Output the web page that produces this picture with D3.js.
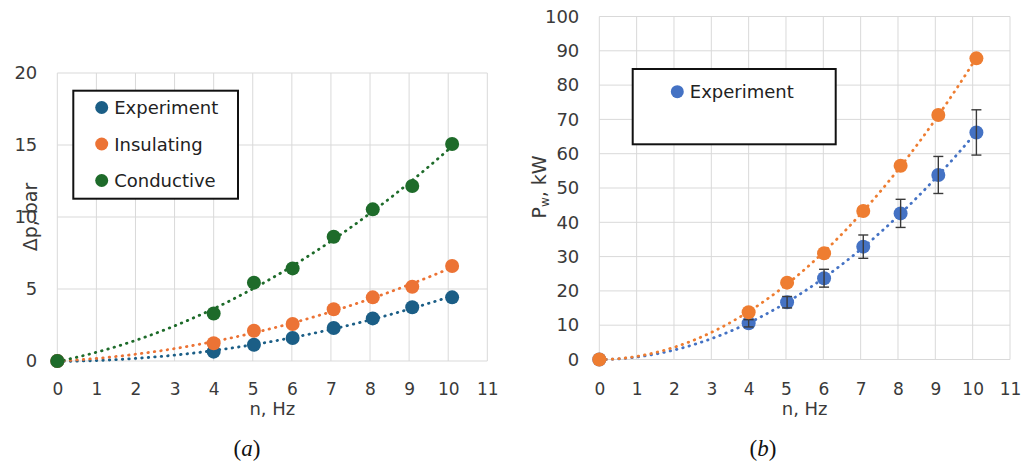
<!DOCTYPE html>
<html><head><meta charset="utf-8">
<script src="https://cdn.jsdelivr.net/npm/d3@7"></script>
<style>body{margin:0;background:#fff}svg{display:block}</style>
</head><body>
<svg id="c" width="1029" height="466"></svg>
<script>
// ---- data ----
const freqN = [0, 4, 5.03, 6.02, 7.07, 8.07, 9.08, 10.1];
const xTicks = [0,1,2,3,4,5,6,7,8,9,10,11];
const dpTicks = [0,5,10,15,20];
const pwTicks = [0,10,20,30,40,50,60,70,80,90,100];
const dpExperiment = [0, 0.65, 1.13, 1.6, 2.29, 2.96, 3.73, 4.42];
const dpInsulating = [0, 1.23, 2.1, 2.57, 3.59, 4.42, 5.16, 6.6];
const dpConductive = [0, 3.3, 5.44, 6.43, 8.63, 10.53, 12.15, 15.07];
const pwExperiment = [0, 10.55, 16.7, 23.7, 32.9, 42.6, 53.8, 66.2];
const pwExpError   = [0, 1.06, 1.67, 2.6, 3.4, 4.1, 5.4, 6.6];
const pwModel      = [0, 13.76, 22.4, 30.96, 43.3, 56.5, 71.3, 87.8];
const legendA = ["Experiment","Insulating","Conductive"];
const legendB = ["Experiment"];

const FONT = "DejaVu Sans, sans-serif";
const TXT = "#3a3a3a";
const svg = d3.select("#c");

function quadFit(xs, ys){
  let S=[0,0,0,0,0], T=[0,0,0];
  xs.forEach((x,i)=>{ for(let k=0;k<5;k++) S[k]+=Math.pow(x,k); for(let k=0;k<3;k++) T[k]+=ys[i]*Math.pow(x,k); });
  const A=[[S[0],S[1],S[2],T[0]],[S[1],S[2],S[3],T[1]],[S[2],S[3],S[4],T[2]]];
  for(let i=0;i<3;i++){ for(let j=i+1;j<3;j++){ const f=A[j][i]/A[i][i]; for(let k=i;k<4;k++) A[j][k]-=f*A[i][k]; } }
  const c=[0,0,0];
  for(let i=2;i>=0;i--){ let s=A[i][3]; for(let k=i+1;k<3;k++) s-=A[i][k]*c[k]; c[i]=s/A[i][i]; }
  return x=>c[0]+c[1]*x+c[2]*x*x;
}

function panel(o){
  const g = svg.append("g");
  const x = d3.scaleLinear().domain([0,11]).range(o.xr);
  const y = d3.scaleLinear().domain([0,o.ymax]).range(o.yr);
  g.selectAll(".vg").data(xTicks).join("line")
    .attr("x1",d=>x(d)).attr("x2",d=>x(d)).attr("y1",y(0)).attr("y2",y(o.ymax))
    .attr("stroke","#d9d9d9").attr("stroke-width",1);
  g.selectAll(".hg").data(o.yTicks).join("line")
    .attr("x1",x(0)).attr("x2",x(11)).attr("y1",d=>y(d)).attr("y2",d=>y(d))
    .attr("stroke","#d9d9d9").attr("stroke-width",1);
  const xa = g.append("g").attr("transform",`translate(0,${y(0)})`)
    .call(d3.axisBottom(x).tickValues(xTicks).tickSize(0).tickPadding(o.xPad));
  xa.select(".domain").remove();
  xa.selectAll("text").attr("font-family",FONT).attr("font-size",17).attr("fill",TXT);
  const ya = g.append("g").attr("transform",`translate(${x(0)},0)`)
    .call(d3.axisLeft(y).tickValues(o.yTicks).tickSize(0).tickPadding(o.yPad));
  ya.select(".domain").remove();
  ya.selectAll("text").attr("font-family",FONT).attr("font-size",18).attr("fill",TXT);
  g.append("text").attr("x",(x(0)+x(11))/2).attr("y",o.xtY).attr("text-anchor","middle")
    .attr("font-family",FONT).attr("font-size",18).attr("fill",TXT).text("n, Hz");
  const line = d3.line().x(d=>x(d[0])).y(d=>y(d[1]));
  o.series.forEach(s=>{
    const f = quadFit(freqN, s.v);
    const pts = d3.range(0, 201).map(i=>{const xx=freqN[freqN.length-1]*i/200; return [xx,f(xx)];});
    g.append("path").attr("d",line(pts)).attr("fill","none").attr("stroke",s.c)
      .attr("stroke-width",2.8).attr("stroke-linecap","round").attr("stroke-dasharray","0.5 6");
  });
  o.series.forEach(s=>{
    g.selectAll(null).data(freqN.map((n,i)=>[n,s.v[i]])).join("circle")
      .attr("cx",d=>x(d[0])).attr("cy",d=>y(d[1])).attr("r",7).attr("fill",s.c);
    if(s.err){
      const eb = g.append("g").attr("stroke","#3a3a3a").attr("stroke-width",1.4);
      freqN.forEach((n,i)=>{
        if(!s.err[i]) return;
        const lo=y(s.v[i]-s.err[i]), hi=y(s.v[i]+s.err[i]), cx=x(n);
        eb.append("line").attr("x1",cx).attr("x2",cx).attr("y1",lo).attr("y2",hi);
        eb.append("line").attr("x1",cx-5).attr("x2",cx+5).attr("y1",lo).attr("y2",lo);
        eb.append("line").attr("x1",cx-5).attr("x2",cx+5).attr("y1",hi).attr("y2",hi);
      });
    }
  });
  return {g,x,y};
}

panel({xr:[57.3,487.3], yr:[361,73], ymax:20, yTicks:dpTicks, xPad:22, yPad:20, xtY:415,
  series:[{v:dpExperiment,c:"#1b5e86"},{v:dpInsulating,c:"#ec7335"},{v:dpConductive,c:"#1e6b2a"}]});
panel({xr:[599.3,1010], yr:[359.5,16.5], ymax:100, yTicks:pwTicks, xPad:23.5, yPad:20, xtY:415,
  series:[{v:pwExperiment,c:"#4472c4",err:pwExpError},{v:pwModel,c:"#ee7d31"}]});

svg.append("text").attr("transform","translate(37,217) rotate(-90)").attr("text-anchor","middle")
  .attr("font-family",FONT).attr("font-size",19).attr("fill",TXT).text("Δp, bar");
const pt = svg.append("text").attr("transform","translate(546,187) rotate(-90)").attr("text-anchor","middle")
  .attr("font-family",FONT).attr("font-size",19).attr("fill",TXT);
pt.append("tspan").text("P");
pt.append("tspan").attr("font-size",12).attr("dy",3).text("w");
pt.append("tspan").attr("dy",-3).text(", kW");

function legend(x0,y0,w,h,items,colors,cy0,dy,mx){
  svg.append("rect").attr("x",x0).attr("y",y0).attr("width",w).attr("height",h)
    .attr("fill","#fff").attr("stroke","#111").attr("stroke-width",2);
  items.forEach((t,i)=>{
    svg.append("circle").attr("cx",mx).attr("cy",cy0+i*dy).attr("r",6.5).attr("fill",colors[i]);
    svg.append("text").attr("x",mx+12.5).attr("y",cy0+i*dy+6.5).attr("font-family",FONT)
      .attr("font-size",18).attr("fill","#222").text(t);
  });
}
legend(73.3,90.7,164.7,108,legendA,["#1b5e86","#ec7335","#1e6b2a"],107.5,36.5,101.7);
legend(632.7,69,203,75.3,legendB,["#4472c4"],91.7,0,677.3);

function caption(cx,letter){
  const t = svg.append("text").attr("x",cx).attr("y",456).attr("text-anchor","middle")
    .attr("font-family","Liberation Serif, serif").attr("font-size",23).attr("fill","#111");
  t.append("tspan").text("(");
  t.append("tspan").attr("font-style","italic").text(letter);
  t.append("tspan").text(")");
}
caption(247,"a"); caption(763,"b");
</script>
</body></html>
